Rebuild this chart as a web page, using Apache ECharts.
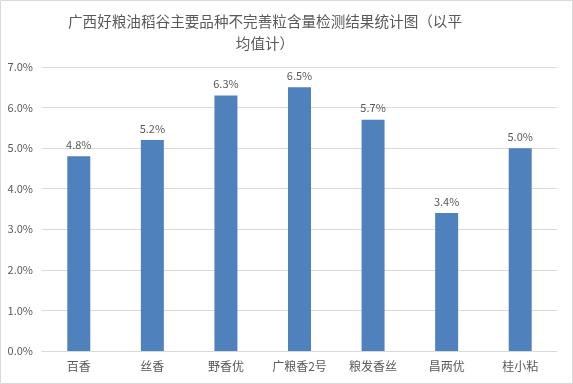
<!DOCTYPE html>
<html><head><meta charset="utf-8">
<script src="https://cdn.jsdelivr.net/npm/echarts@6/dist/echarts.min.js"></script>
<style>html,body{margin:0;padding:0;background:#fff}#c{width:573px;height:384px}</style>
</head><body><div id="c"></div>
<script>
const categories = ['百香','丝香','野香优','广粮香2号','粮发香丝','昌两优','桂小粘'];
const values = [4.8,5.2,6.3,6.5,5.7,3.4,5.0];
const titleText = '广西好粮油稻谷主要品种不完善粒含量检测结果统计图（以平\n均值计）';
const font = '"Noto Sans CJK SC", "Microsoft YaHei", sans-serif';
const chart = echarts.init(document.getElementById('c'));
chart.setOption({
  animation:false,
  backgroundColor:'#fff',
  title:{text:titleText,left:260,top:5,textAlign:'center',
    textStyle:{fontSize:14.6,fontWeight:'normal',color:'#595959',fontFamily:font,lineHeight:22}},
  graphic:[{type:'rect',shape:{x:0.5,y:0.5,width:572,height:383},style:{fill:'none',stroke:'#d9d9d9',lineWidth:1},silent:true}],
  grid:{left:42,right:16,top:67,bottom:33},
  xAxis:{type:'category',data:categories,
    axisLine:{lineStyle:{color:'#d9d9d9'}},axisTick:{show:false},
    axisLabel:{color:'#595959',fontSize:12,fontFamily:font,margin:9}},
  yAxis:{type:'value',min:0,max:7,interval:1,
    axisLine:{show:false},axisTick:{show:false},
    splitLine:{lineStyle:{color:'#d9d9d9'}},
    axisLabel:{color:'#595959',fontSize:11,fontFamily:font,margin:9,formatter:v=>v.toFixed(1)+'%'}},
  series:[{type:'bar',data:values,barWidth:23,
    itemStyle:{color:'#4f81bd'},
    label:{show:true,position:'top',distance:6,color:'#595959',fontSize:11,fontFamily:font,formatter:p=>p.value.toFixed(1)+'%'}}]
});
</script></body></html>
